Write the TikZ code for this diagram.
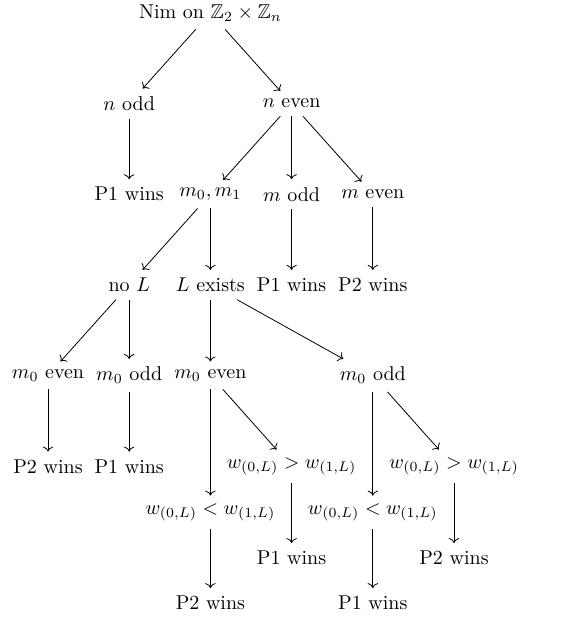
\documentclass[tikz,border=0pt]{standalone}
\usepackage{amsmath,amssymb}
\usetikzlibrary{arrows.meta}
\begin{document}
\begin{tikzpicture}[x=0.5pt,y=-0.5pt,
  cell/.style={inner sep=3.8pt, anchor=center},
  arr/.style={-{Computer Modern Rightarrow}, line width=0.4pt}]
\useasboundingbox (0,0) rectangle (582,619);
\node[cell] (nim) at (210.4,13) {Nim on $\mathbb{Z}_2\times\mathbb{Z}_n$};
\node[cell] (nodd) at (129.2,103.6) {$n$ odd};
\node[cell] (neven) at (291.6,103.6) {$n$ even};
\node[cell] (p1a) at (129.2,194.2) {P1 wins};
\node[cell] (m01) at (210.4,194.2) {$m_0, m_1$};
\node[cell] (modd) at (291.6,194.2) {$m$ odd};
\node[cell] (meven) at (372.8,194.2) {$m$ even};
\node[cell] (noL) at (129.2,284.8) {no $L$};
\node[cell] (Lex) at (210.4,284.8) {$L$ exists};
\node[cell] (p1b) at (291.6,284.8) {P1 wins};
\node[cell] (p2b) at (372.8,284.8) {P2 wins};
\node[cell] (m0e1) at (48,375.4) {$m_0$ even};
\node[cell] (m0o1) at (129.2,375.4) {$m_0$ odd};
\node[cell] (m0e2) at (210.4,375.4) {$m_0$ even};
\node[cell] (m0o2) at (372.8,375.4) {$m_0$ odd};
\node[cell] (p2c) at (48,466.5) {P2 wins};
\node[cell] (p1c) at (129.2,466.5) {P1 wins};
\node[cell] (wg1) at (291.6,466.5) {$w_{(0,L)} > w_{(1,L)}$};
\node[cell] (wl1) at (210.4,512.5) {$w_{(0,L)} < w_{(1,L)}$};
\node[cell] (wg2) at (454,466.5) {$w_{(0,L)} > w_{(1,L)}$};
\node[cell] (wl2) at (372.8,512.5) {$w_{(0,L)} < w_{(1,L)}$};
\node[cell] (p1d) at (291.6,558) {P1 wins};
\node[cell] (p2d) at (454,558) {P2 wins};
\node[cell] (p2e) at (210.4,603) {P2 wins};
\node[cell] (p1e) at (372.8,603) {P1 wins};
\draw[arr] (nim) -- (nodd);
\draw[arr] (nim) -- (neven);
\draw[arr] (nodd) -- (p1a);
\draw[arr] (neven) -- (m01);
\draw[arr] (neven) -- (modd);
\draw[arr] (neven) -- (meven);
\draw[arr] (m01) -- (noL);
\draw[arr] (m01) -- (Lex);
\draw[arr] (modd) -- (p1b);
\draw[arr] (meven) -- (p2b);
\draw[arr] (noL) -- (m0e1);
\draw[arr] (noL) -- (m0o1);
\draw[arr] (Lex) -- (m0e2);
\draw[arr] (Lex) -- (m0o2);
\draw[arr] (m0e1) -- (p2c);
\draw[arr] (m0o1) -- (p1c);
\draw[arr] (m0e2) -- (wl1);
\draw[arr] (m0e2) -- (wg1);
\draw[arr] (m0o2) -- (wl2);
\draw[arr] (m0o2) -- (wg2);
\draw[arr] (wg1) -- (p1d);
\draw[arr] (wl1) -- (p2e);
\draw[arr] (wg2) -- (p2d);
\draw[arr] (wl2) -- (p1e);
\end{tikzpicture}
\end{document}
